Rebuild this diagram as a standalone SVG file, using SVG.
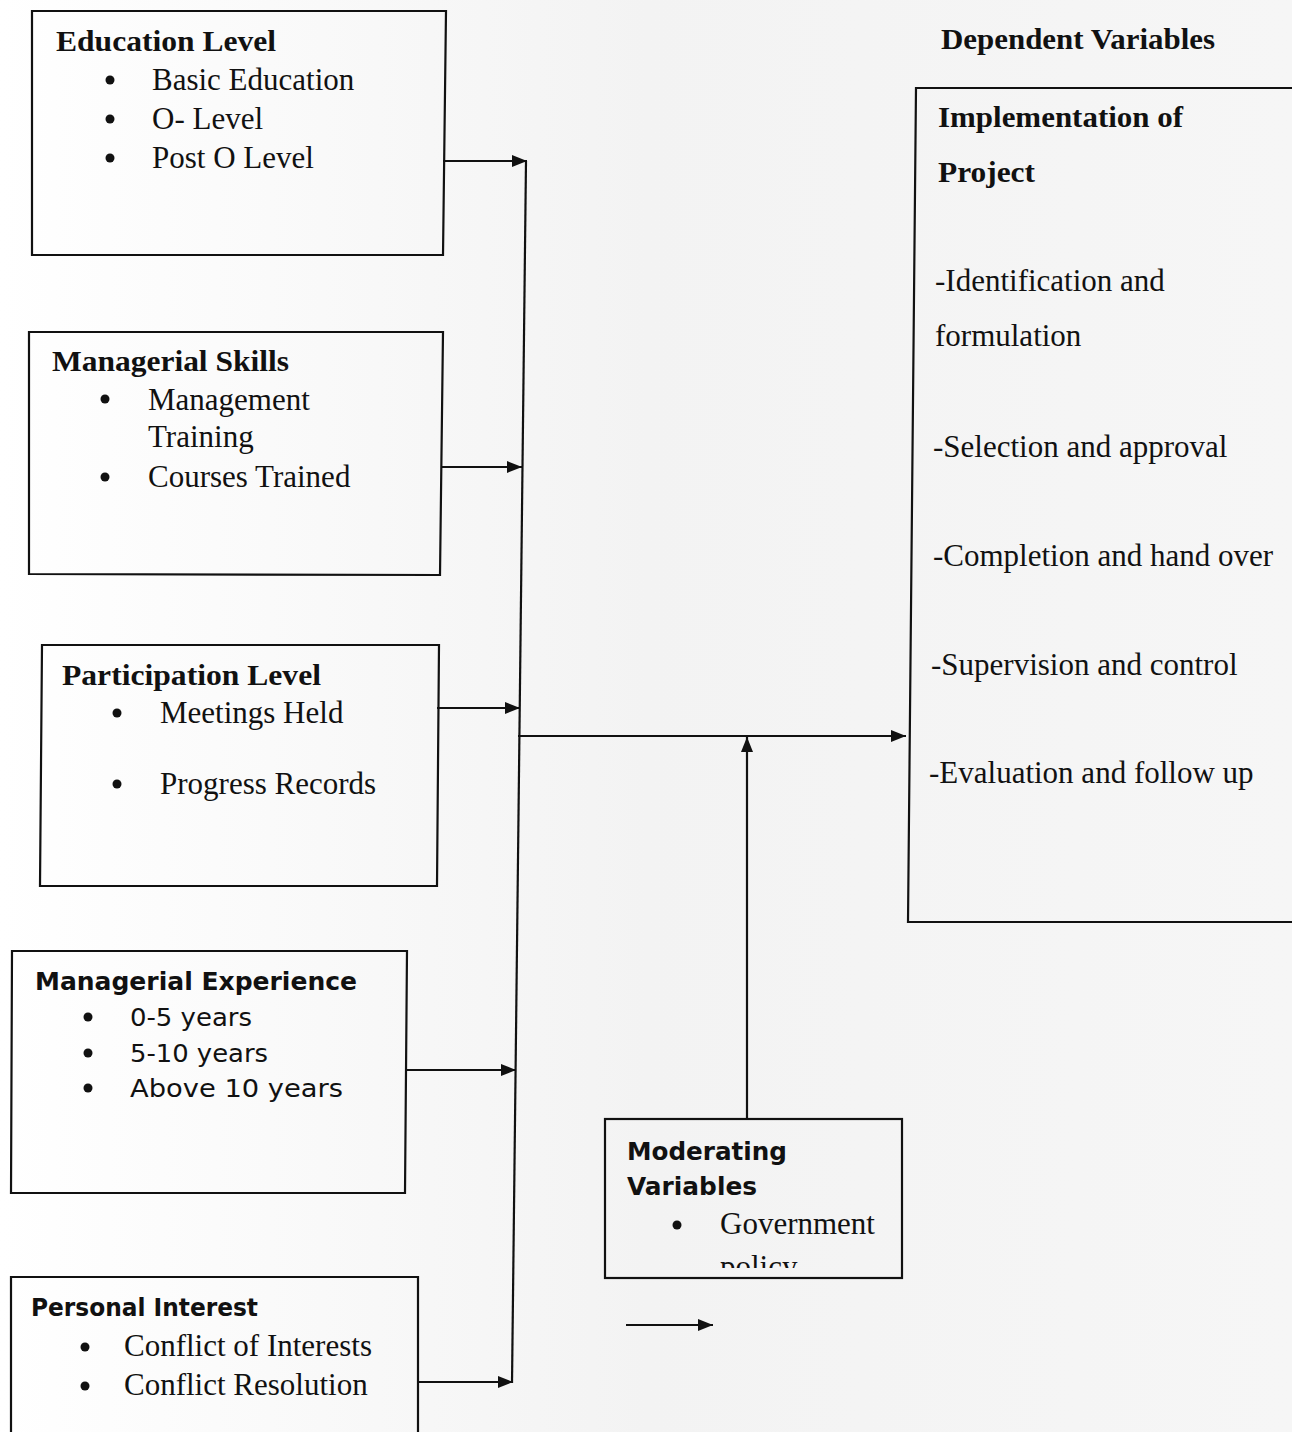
<svg xmlns="http://www.w3.org/2000/svg" width="1292" height="1432" viewBox="0 0 1292 1432">
  <defs>
    <linearGradient id="bg" x1="0" y1="0" x2="1" y2="0">
      <stop offset="0" stop-color="#ffffff"/>
      <stop offset="0.5" stop-color="#f3f3f3"/>
      <stop offset="1" stop-color="#f6f6f6"/>
    </linearGradient>
    <marker id="arr" viewBox="0 0 15 12" refX="15" refY="6" markerWidth="15" markerHeight="12" markerUnits="userSpaceOnUse" orient="auto">
      <path d="M0,0 L15,6 L0,12 Z" fill="#111"/>
    </marker>
    <clipPath id="modclip"><rect x="606" y="1120" width="296" height="148"/></clipPath>
    <style>
      .box{fill:none;stroke:#111;stroke-width:2.2}
      .ln{fill:none;stroke:#111;stroke-width:2.2}
      .ar{fill:none;stroke:#111;stroke-width:2.2;marker-end:url(#arr)}
      .hd{font-family:"Liberation Serif","Times New Roman",serif;font-weight:bold;font-size:30px;fill:#111}
      .tx{font-family:"Liberation Serif","Times New Roman",serif;font-size:31px;fill:#111}
      .gh{font-family:"DejaVu Sans","Liberation Sans",sans-serif;font-weight:bold;font-size:25px;fill:#111}
      .gt{font-family:"DejaVu Sans","Liberation Sans",sans-serif;font-size:25px;fill:#111}
      .bl{fill:#111}
    </style>
  </defs>
  <rect x="0" y="0" width="1292" height="1432" fill="url(#bg)"/>

  <g id="connectors">
    <line class="ln" x1="526" y1="161" x2="512" y2="1383"/>
    <line class="ar" x1="443" y1="161" x2="527" y2="161"/>
    <line class="ar" x1="441" y1="467" x2="522" y2="467"/>
    <line class="ar" x1="437" y1="708" x2="520" y2="708"/>
    <line class="ar" x1="406" y1="1070" x2="516" y2="1070"/>
    <line class="ar" x1="417" y1="1382" x2="513" y2="1382"/>
    <line class="ar" x1="518" y1="736" x2="906" y2="736"/>
    <line class="ar" x1="747" y1="1119" x2="747" y2="737"/>
    <line class="ar" x1="626" y1="1325" x2="713" y2="1325"/>
  </g>

  <g id="education-level">
    <path class="box" d="M32,11 L446,11 L443,255 L32,255 Z"/>
    <text class="hd" x="56" y="51" textLength="220" lengthAdjust="spacingAndGlyphs">Education Level</text>
    <circle class="bl" cx="110" cy="80" r="4.5"/>
    <text class="tx" x="152" y="90">Basic Education</text>
    <circle class="bl" cx="110" cy="119" r="4.5"/>
    <text class="tx" x="152" y="129">O- Level</text>
    <circle class="bl" cx="110" cy="158" r="4.5"/>
    <text class="tx" x="152" y="168">Post O Level</text>
  </g>

  <g id="managerial-skills">
    <path class="box" d="M29,332 L443,332 L440,575 L29,574 Z"/>
    <text class="hd" x="52" y="371" textLength="237" lengthAdjust="spacingAndGlyphs">Managerial Skills</text>
    <circle class="bl" cx="105" cy="399" r="4.5"/>
    <text class="tx" x="148" y="410">Management</text>
    <text class="tx" x="148" y="447">Training</text>
    <circle class="bl" cx="105" cy="477" r="4.5"/>
    <text class="tx" x="148" y="487">Courses Trained</text>
  </g>

  <g id="participation-level">
    <path class="box" d="M42,645 L439,645 L437,886 L40,886 Z"/>
    <text class="hd" x="62" y="685" textLength="259" lengthAdjust="spacingAndGlyphs">Participation Level</text>
    <circle class="bl" cx="117" cy="713" r="4.5"/>
    <text class="tx" x="160" y="723">Meetings Held</text>
    <circle class="bl" cx="117" cy="784" r="4.5"/>
    <text class="tx" x="160" y="794">Progress Records</text>
  </g>

  <g id="managerial-experience">
    <path class="box" d="M12,951 L407,951 L405,1193 L11,1193 Z"/>
    <text class="gh" x="35" y="990" textLength="322" lengthAdjust="spacingAndGlyphs">Managerial Experience</text>
    <circle class="bl" cx="88" cy="1017" r="4.5"/>
    <text class="gt" x="130" y="1026" textLength="122" lengthAdjust="spacingAndGlyphs">0-5 years</text>
    <circle class="bl" cx="88" cy="1053" r="4.5"/>
    <text class="gt" x="130" y="1062" textLength="138" lengthAdjust="spacingAndGlyphs">5-10 years</text>
    <circle class="bl" cx="88" cy="1088" r="4.5"/>
    <text class="gt" x="130" y="1097" textLength="213" lengthAdjust="spacingAndGlyphs">Above 10 years</text>
  </g>

  <g id="personal-interest">
    <path class="box" d="M11,1440 L11,1277 L418,1277 L418,1440"/>
    <text class="gh" x="31" y="1316" textLength="227" lengthAdjust="spacingAndGlyphs">Personal Interest</text>
    <circle class="bl" cx="85" cy="1347" r="4.5"/>
    <text class="tx" x="124" y="1356">Conflict of Interests</text>
    <circle class="bl" cx="85" cy="1386" r="4.5"/>
    <text class="tx" x="124" y="1395">Conflict Resolution</text>
  </g>

  <g id="moderating-variables">
    <rect class="box" x="605" y="1119" width="297" height="159"/>
    <text class="gh" x="627" y="1160" textLength="160" lengthAdjust="spacingAndGlyphs">Moderating</text>
    <text class="gh" x="627" y="1195" textLength="130" lengthAdjust="spacingAndGlyphs">Variables</text>
    <circle class="bl" cx="677" cy="1225" r="4.5"/>
    <g clip-path="url(#modclip)">
      <text class="tx" x="720" y="1234">Government</text>
      <text class="tx" x="720" y="1277">policy</text>
    </g>
  </g>

  <g id="dependent-variables">
    <text class="hd" x="941" y="49" textLength="274" lengthAdjust="spacingAndGlyphs">Dependent Variables</text>
    <path class="box" d="M1300,88 L916,88 L908,922 L1300,922"/>
    <text class="hd" x="938" y="127" textLength="245" lengthAdjust="spacingAndGlyphs">Implementation of</text>
    <text class="hd" x="938" y="182" textLength="97" lengthAdjust="spacingAndGlyphs">Project</text>
    <text class="tx" x="935" y="291">-Identification and</text>
    <text class="tx" x="935" y="346">formulation</text>
    <text class="tx" x="933" y="457">-Selection and approval</text>
    <text class="tx" x="933" y="566">-Completion and hand over</text>
    <text class="tx" x="931" y="675">-Supervision and control</text>
    <text class="tx" x="929" y="783">-Evaluation and follow up</text>
  </g>
</svg>
